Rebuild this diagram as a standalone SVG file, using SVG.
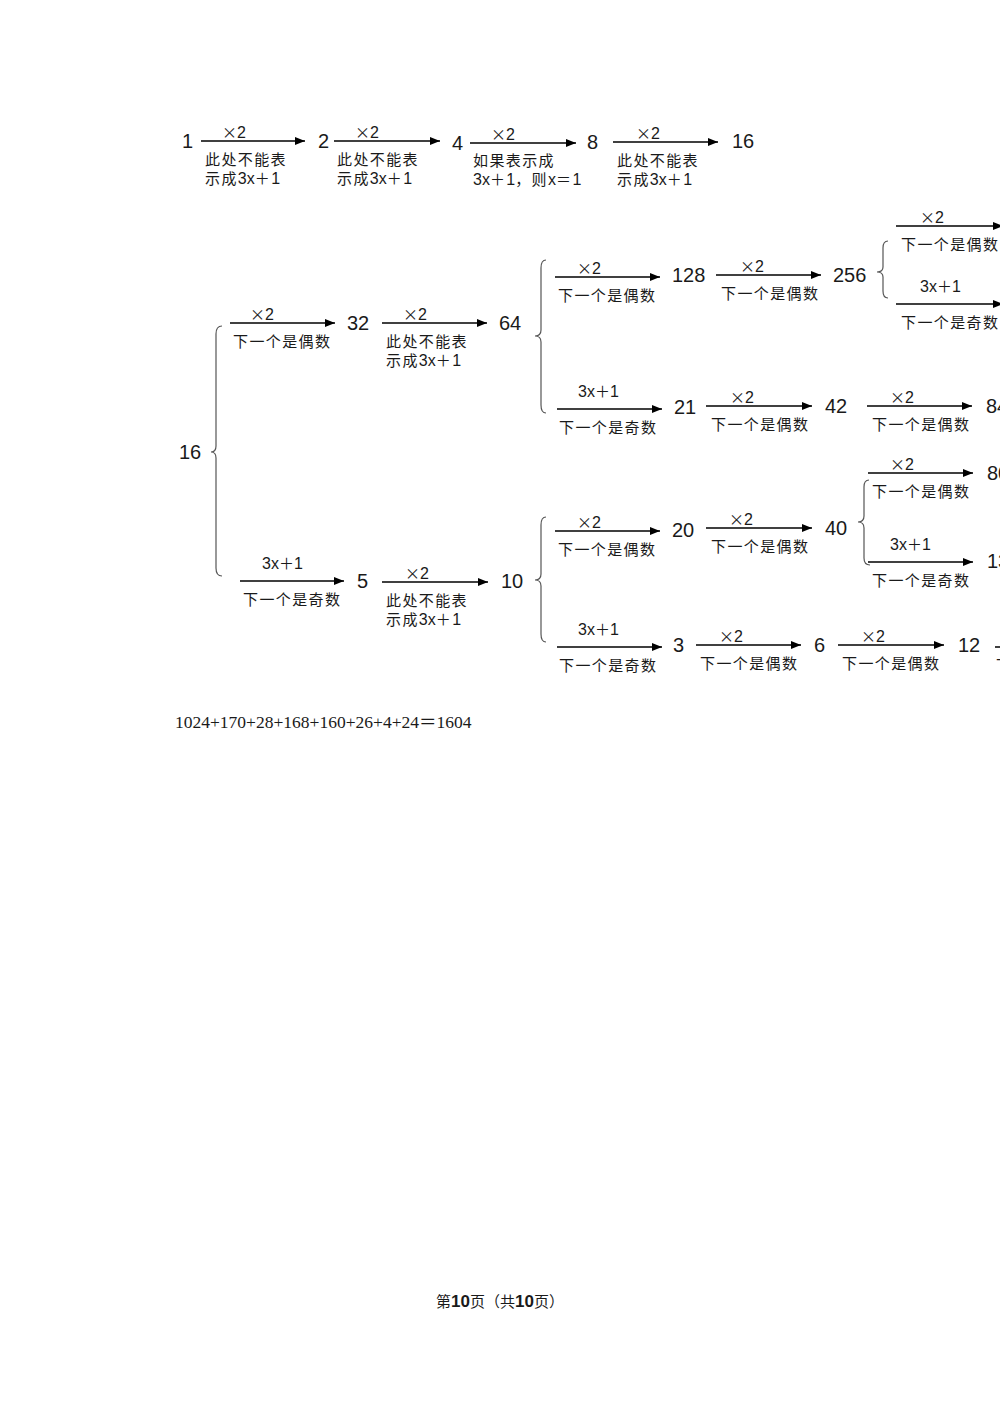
<svg xmlns="http://www.w3.org/2000/svg" width="1000" height="1415" viewBox="0 0 1000 1415">
<style>
text{fill:#1a1a1a}
.n{font-family:"Liberation Sans",sans-serif;font-size:20px}
.l{font-family:"Noto Sans CJK SC",sans-serif;font-size:15px;letter-spacing:1.4px}
.m{font-family:"Liberation Sans",sans-serif;font-size:16px}
.la{font-family:"Liberation Sans",sans-serif;font-size:16px;letter-spacing:0}
.cj{font-family:"Noto Sans CJK SC",sans-serif;font-size:15px}
.a{stroke:#000;stroke-width:1.4;fill:none;marker-end:url(#ah)}
.b{stroke:#555;stroke-width:1.2;fill:none}
.f{font-family:"Liberation Serif","Noto Sans CJK SC",serif;font-size:17.5px}
.p{font-family:"Noto Sans CJK SC",serif;font-size:15px}
.pb{font-family:"Liberation Sans",sans-serif;font-size:17px;font-weight:bold}
</style>
<defs>
<marker id="ah" markerUnits="userSpaceOnUse" markerWidth="11" markerHeight="9" refX="10" refY="4" orient="auto">
<path d="M0,0 L10,4 L0,8 z" fill="#000"/>
</marker>
</defs>
<rect width="1000" height="1415" fill="#fff"/>

<g id="connectors">
<line class="a" x1="201" y1="141" x2="305" y2="141"/>
<line class="a" x1="334" y1="141" x2="440" y2="141"/>
<line class="a" x1="470" y1="143" x2="576" y2="143"/>
<line class="a" x1="613" y1="142" x2="718" y2="142"/>
<line class="a" x1="230" y1="323" x2="335" y2="323"/>
<line class="a" x1="382" y1="323" x2="487" y2="323"/>
<line class="a" x1="555" y1="277" x2="660" y2="277"/>
<line class="a" x1="716" y1="275" x2="821" y2="275"/>
<line class="a" x1="896" y1="226" x2="1003" y2="226"/>
<line class="a" x1="896" y1="304" x2="1003" y2="304"/>
<line class="a" x1="557" y1="409" x2="662" y2="409"/>
<line class="a" x1="706" y1="406" x2="812" y2="406"/>
<line class="a" x1="867" y1="406" x2="972" y2="406"/>
<line class="a" x1="240" y1="581" x2="344" y2="581"/>
<line class="a" x1="382" y1="582" x2="488" y2="582"/>
<line class="a" x1="555" y1="531" x2="660" y2="531"/>
<line class="a" x1="706" y1="528" x2="812" y2="528"/>
<line class="a" x1="868" y1="473" x2="973" y2="473"/>
<line class="a" x1="868" y1="562" x2="973" y2="562"/>
<line class="a" x1="557" y1="647" x2="662" y2="647"/>
<line class="a" x1="696" y1="645" x2="801" y2="645"/>
<line class="a" x1="838" y1="645" x2="944" y2="645"/>
<line class="a" x1="995" y1="647" x2="1100" y2="647"/>
<path class="b" d="M222,326 Q216,326 216,334 L216,446 Q216,452 211,452 Q216,452 216,458 L216,568 Q216,576 222,576"/>
<path class="b" d="M546,260 Q541,260 541,268 L541,330 Q541,336 535,336 Q541,336 541,342 L541,405 Q541,413 546,413"/>
<path class="b" d="M546,517 Q541,517 541,525 L541,574 Q541,580 535,580 Q541,580 541,586 L541,634 Q541,642 546,642"/>
<path class="b" d="M888,241 Q883,241 883,248 L883,267 Q883,272 877,272 Q883,272 883,277 L883,291 Q883,298 888,298"/>
<path class="b" d="M869,480 Q864,480 864,487 L864,516 Q864,522 858,522 Q864,522 864,528 L864,558 Q864,565 870,565"/>
</g>

<g id="row1">
<g id="n1"><text class="n" x="182" y="148">1</text></g>
<g id="e1"><text class="m" x="222" y="138"><tspan class="cj">×</tspan>2</text><text class="l" x="205" y="165">此处不能表</text><text class="l" x="205" y="184">示成<tspan class="la">3x</tspan>＋<tspan class="la">1</tspan></text></g>
<g id="n2"><text class="n" x="318" y="148">2</text></g>
<g id="e2"><text class="m" x="355" y="138"><tspan class="cj">×</tspan>2</text><text class="l" x="337" y="165">此处不能表</text><text class="l" x="337" y="184">示成<tspan class="la">3x</tspan>＋<tspan class="la">1</tspan></text></g>
<g id="n4"><text class="n" x="452" y="150">4</text></g>
<g id="e3"><text class="m" x="491" y="140"><tspan class="cj">×</tspan>2</text><text class="l" x="473" y="166">如果表示成</text><text class="l" x="473" y="185"><tspan class="la">3x</tspan>＋<tspan class="la">1</tspan>，则<tspan class="la">x</tspan>＝<tspan class="la">1</tspan></text></g>
<g id="n8"><text class="n" x="587" y="149">8</text></g>
<g id="e4"><text class="m" x="636" y="139"><tspan class="cj">×</tspan>2</text><text class="l" x="617" y="166">此处不能表</text><text class="l" x="617" y="185">示成<tspan class="la">3x</tspan>＋<tspan class="la">1</tspan></text></g>
<g id="n16a"><text class="n" x="732" y="148">16</text></g>
</g>

<g id="tree">
<g id="t16"><text class="n" x="179" y="459">16</text></g>
<g id="e16_32"><text class="m" x="250" y="320"><tspan class="cj">×</tspan>2</text><text class="l" x="233" y="347">下一个是偶数</text></g>
<g id="t32"><text class="n" x="347" y="330">32</text></g>
<g id="e32_64"><text class="m" x="403" y="320"><tspan class="cj">×</tspan>2</text><text class="l" x="386" y="347">此处不能表</text><text class="l" x="386" y="366">示成<tspan class="la">3x</tspan>＋<tspan class="la">1</tspan></text></g>
<g id="t64"><text class="n" x="499" y="330">64</text></g>
<g id="e64_128"><text class="m" x="577" y="274"><tspan class="cj">×</tspan>2</text><text class="l" x="558" y="301">下一个是偶数</text></g>
<g id="t128"><text class="n" x="672" y="282">128</text></g>
<g id="e128_256"><text class="m" x="740" y="272"><tspan class="cj">×</tspan>2</text><text class="l" x="721" y="299">下一个是偶数</text></g>
<g id="t256"><text class="n" x="833" y="282">256</text></g>
<g id="e256_512"><text class="m" x="920" y="223"><tspan class="cj">×</tspan>2</text><text class="l" x="901" y="250">下一个是偶数</text></g>
<g id="e256_85"><text class="m" x="920" y="292">3x<tspan class="cj">＋</tspan>1</text><text class="l" x="901" y="328">下一个是奇数</text></g>
<g id="e64_21"><text class="m" x="578" y="397">3x<tspan class="cj">＋</tspan>1</text><text class="l" x="559" y="433">下一个是奇数</text></g>
<g id="t21"><text class="n" x="674" y="414">21</text></g>
<g id="e21_42"><text class="m" x="730" y="403"><tspan class="cj">×</tspan>2</text><text class="l" x="711" y="430">下一个是偶数</text></g>
<g id="t42"><text class="n" x="825" y="413">42</text></g>
<g id="e42_84"><text class="m" x="890" y="403"><tspan class="cj">×</tspan>2</text><text class="l" x="872" y="430">下一个是偶数</text></g>
<g id="t84"><text class="n" x="986" y="413">84</text></g>
<g id="e16_5"><text class="m" x="262" y="569">3x<tspan class="cj">＋</tspan>1</text><text class="l" x="243" y="605">下一个是奇数</text></g>
<g id="t5"><text class="n" x="357" y="588">5</text></g>
<g id="e5_10"><text class="m" x="405" y="579"><tspan class="cj">×</tspan>2</text><text class="l" x="386" y="606">此处不能表</text><text class="l" x="386" y="625">示成<tspan class="la">3x</tspan>＋<tspan class="la">1</tspan></text></g>
<g id="t10"><text class="n" x="501" y="588">10</text></g>
<g id="e10_20"><text class="m" x="577" y="528"><tspan class="cj">×</tspan>2</text><text class="l" x="558" y="555">下一个是偶数</text></g>
<g id="t20"><text class="n" x="672" y="537">20</text></g>
<g id="e20_40"><text class="m" x="729" y="525"><tspan class="cj">×</tspan>2</text><text class="l" x="711" y="552">下一个是偶数</text></g>
<g id="t40"><text class="n" x="825" y="535">40</text></g>
<g id="e40_80"><text class="m" x="890" y="470"><tspan class="cj">×</tspan>2</text><text class="l" x="872" y="497">下一个是偶数</text></g>
<g id="t80"><text class="n" x="987" y="480">80</text></g>
<g id="e40_13"><text class="m" x="890" y="550">3x<tspan class="cj">＋</tspan>1</text><text class="l" x="872" y="586">下一个是奇数</text></g>
<g id="t13"><text class="n" x="987" y="568">13</text></g>
<g id="e10_3"><text class="m" x="578" y="635">3x<tspan class="cj">＋</tspan>1</text><text class="l" x="559" y="671">下一个是奇数</text></g>
<g id="t3"><text class="n" x="673" y="652">3</text></g>
<g id="e3_6"><text class="m" x="719" y="642"><tspan class="cj">×</tspan>2</text><text class="l" x="700" y="669">下一个是偶数</text></g>
<g id="t6"><text class="n" x="814" y="652">6</text></g>
<g id="e6_12"><text class="m" x="861" y="642"><tspan class="cj">×</tspan>2</text><text class="l" x="842" y="669">下一个是偶数</text></g>
<g id="t12"><text class="n" x="958" y="652">12</text></g>
<g id="e12_24"><text class="l" x="996" y="671">下一个是偶数</text></g>
</g>

<g id="formula"><text class="f" x="175" y="728">1024+170+28+168+160+26+4+24＝1604</text></g>
<g id="footer"><text class="p" x="436" y="1307">第<tspan class="pb">10</tspan>页（共<tspan class="pb">10</tspan>页）</text></g>
</svg>
